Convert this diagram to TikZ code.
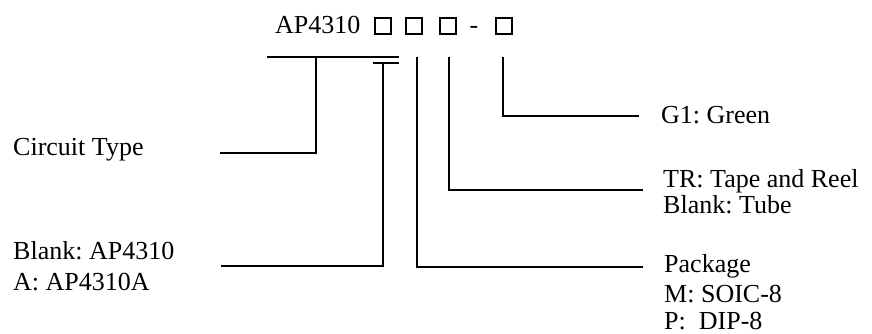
\documentclass[tikz,border=0pt]{standalone}
\usepackage{fontspec}
\setmainfont{Liberation Serif}
\usepackage{tikz}
\usetikzlibrary{positioning,calc}
\frenchspacing

\begin{document}
\begin{tikzpicture}[x=1pt, y=-1pt,
        lbl/.style={anchor=base west, inner sep=0pt, font=\fontsize{26}{30}\selectfont},
        slot/.style={draw, line width=2.8pt, minimum size=16pt, inner sep=0pt},
        lead/.style={line width=1.8pt}]
        \useasboundingbox (0,0) rectangle (872,333);

        % Part number with option slots
        \node[lbl] (pn) at (275,33) {AP4310};
        \node[slot] (s1) at (383,26) {};
        \node[slot] (s2) at (414,26) {};
        \node[slot] (s3) at (448,26) {};
        \node[lbl, anchor=base] (dash) at (474,33) {-};
        \node[slot] (s4) at (504,26) {};

        % Left labels
        \node[lbl] (ct) at (13,155) {Circuit Type};
        \node[lbl] (blank) at (13,259) {Blank: AP4310};
        \node[lbl] (avar) at (13,290) {A: AP4310A};

        % Right labels
        \node[lbl] (green) at (661,123) {G1: Green};
        \node[lbl] (tr) at (663,187) {TR: Tape and Reel};
        \node[lbl] (tube) at (663,213) {Blank: Tube};
        \node[lbl] (pkg) at (664,272) {Package};
        \node[lbl] (soic) at (664,302) {M: SOIC-8};
        \node[lbl] (dip) at (664,329) {P:\ \ DIP-8};

        % Brackets under the part number
        \coordinate (barL) at (267,57);
        \coordinate (barR) at (399,57);
        \coordinate (subL) at (373,63);
        \coordinate (subR) at (399,63);
        \draw[lead] (barL) -- (barR);
        \draw[lead] (subL) -- (subR);

        % Free ends of the leader lines
        \coordinate (ctT) at (316,57);
        \coordinate (ctE) at (220,153);
        \coordinate (verT) at (383,63);
        \coordinate (verE) at (221,266);
        \coordinate (pkgT) at (417,57);
        \coordinate (pkgE) at (643,267);
        \coordinate (trT) at (449,57);
        \coordinate (trE) at (643,190);
        \coordinate (grT) at (503,57);
        \coordinate (grE) at (639,116);

        % Leader lines
        \draw[lead] (ctE) -| (ctT);
        \draw[lead] (verT) |- (verE);
        \draw[lead] (pkgT) |- (pkgE);
        \draw[lead] (trT) |- (trE);
        \draw[lead] (grT) |- (grE);
      \end{tikzpicture}
\end{document}
